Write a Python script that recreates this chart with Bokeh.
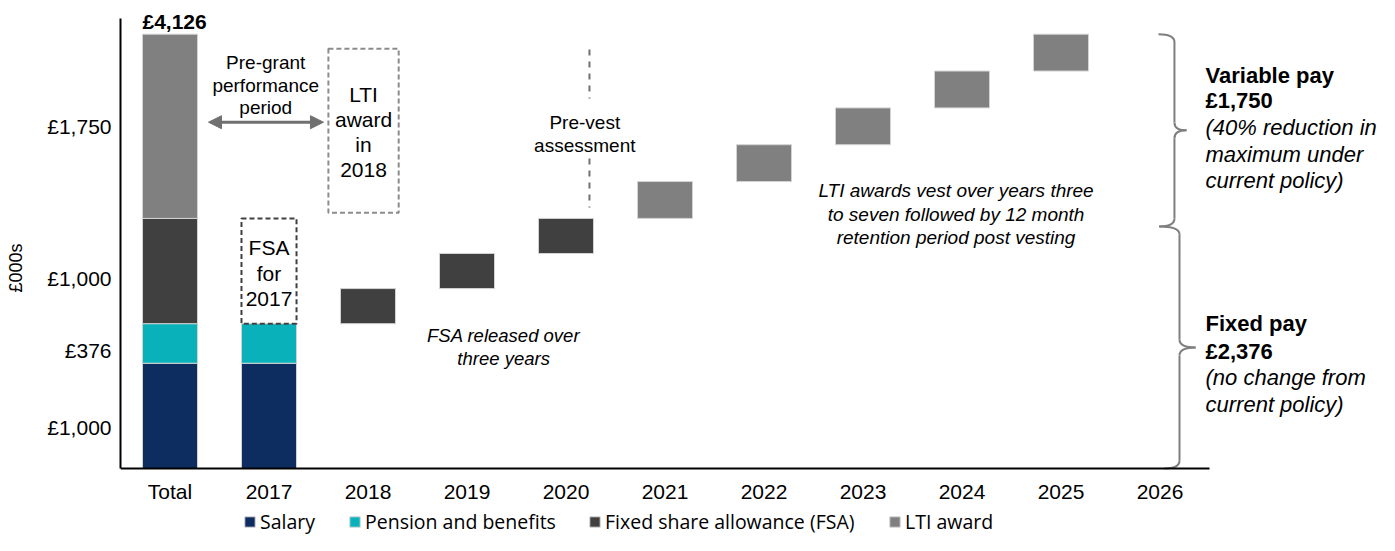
from bokeh.plotting import figure
from bokeh.models import Range1d, FixedTicker, Legend, LegendItem, Arrow, NormalHead
from bokeh.core.properties import value
from bokeh.embed import file_html
from bokeh.resources import INLINE

# ---------------- data ----------------
categories = ["Total", "2017", "2018", "2019", "2020", "2021", "2022",
              "2023", "2024", "2025", "2026"]
salary = 1000
pension = 376
fsa = 1000
lti = 1750
fsa_release_years = ["2018", "2019", "2020"]
lti_vest_years = ["2021", "2022", "2023", "2024", "2025"]
ytick_pos = [390, 1120, 1805, 3250]
ytick_labels = ["£1,000", "£376", "£1,000", "£1,750"]
legend_labels = ["Salary", "Pension and benefits", "Fixed share allowance (FSA)", "LTI award"]

total = salary + pension + fsa + lti
fixed_total = salary + pension + fsa

# ---------------- style ----------------
C_SAL = "#0D2C60"
C_PEN = "#09B2BA"
C_FSA = "#404040"
C_LTI = "#808080"
EDGE = "#d4d4d4"
FONT = value("Liberation Sans")
BW = 0.556

pos = {c: i + 0.5 for i, c in enumerate(categories)}

W, H = 1379, 535
LEFT = 120
PX_PER_UNIT = 0.10526   # vertical scale
Y_TOP = 468 / PX_PER_UNIT
Y_BOT = -(H - 468) / PX_PER_UNIT

p = figure(width=W, height=H, output_backend="svg", toolbar_location=None,
           x_range=Range1d(0, (W - LEFT) / 99.0), y_range=Range1d(Y_BOT, Y_TOP),
           min_border_left=LEFT, min_border_top=0, min_border_bottom=0,
           min_border_right=0)
p.outline_line_color = None
p.xgrid.visible = False
p.ygrid.visible = False
p.background_fill_color = "white"

# ---------------- bars ----------------
sal_x = [pos["Total"], pos["2017"]]
r_sal = p.vbar(x=sal_x, width=BW, bottom=0, top=salary,
               fill_color=C_SAL, line_color=EDGE, line_width=1)
r_pen = p.vbar(x=sal_x, width=BW, bottom=salary, top=salary + pension,
               fill_color=C_PEN, line_color=EDGE, line_width=1)

fsa_x = [pos["Total"]]
fsa_b = [salary + pension]
fsa_t = [fixed_total]
step = fsa / len(fsa_release_years)
base = salary + pension
for y in fsa_release_years:
    fsa_x.append(pos[y]); fsa_b.append(base); fsa_t.append(base + step)
    base += step
r_fsa = p.vbar(x=fsa_x, width=BW, bottom=fsa_b, top=fsa_t,
               fill_color=C_FSA, line_color=EDGE, line_width=1)

lti_x = [pos["Total"]]
lti_b = [fixed_total]
lti_t = [total]
step = lti / len(lti_vest_years)
base = fixed_total
for y in lti_vest_years:
    lti_x.append(pos[y]); lti_b.append(base); lti_t.append(base + step)
    base += step
r_lti = p.vbar(x=lti_x, width=BW, bottom=lti_b, top=lti_t,
               fill_color=C_LTI, line_color=EDGE, line_width=1)

# dashed boxes
p.quad(left=[pos["2017"] - BW / 2], right=[pos["2017"] + BW / 2],
       bottom=[salary + pension], top=[fixed_total],
       fill_color=None, line_color="#404040", line_width=2, line_dash="5 3")
p.quad(left=[2.10], right=[2.81], bottom=[2429], top=[3987],
       fill_color=None, line_color="#8c8c8c", line_width=2, line_dash="5 3")

# total label
p.text(x=[pos["Total"] - BW / 2], y=[total], text=[f"£{total:,}"],
       text_font=FONT, text_font_size="21px", text_font_style="bold",
       text_align="left", text_baseline="bottom", text_color="black", y_offset=-1)

# arrow (pre-grant)
p.add_layout(Arrow(x_start=0.889, y_start=3290, x_end=2.05, y_end=3290,
                   line_color="#707070", line_width=3,
                   start=NormalHead(size=13, fill_color="#707070", line_color="#707070"),
                   end=NormalHead(size=13, fill_color="#707070", line_color="#707070")))

# pre-vest dashed line
p.segment(x0=[4.737, 4.737], y0=[3981, 2945], x1=[4.737, 4.737], y1=[3515, 2480],
          line_color="#707070", line_width=2, line_dash="6 6")

def txt(x, y, s, size, style="normal", align="center", lh=1.1):
    p.text(x=[x], y=[y], text=[s], text_font=FONT, text_font_size=size,
           text_font_style=style, text_align=align, text_baseline="middle",
           text_line_height=lh, text_color="black")

txt(1.467, 3641, "Pre-grant\nperformance\nperiod", "19px", lh=1.084)
txt(2.455, 3197, "LTI\naward\nin\n2018", "21px", lh=1.096)
txt(pos["2017"], 1857, "FSA\nfor\n2017", "21px", lh=1.10)
txt(4.69, 3180, "Pre-vest\nassessment", "19px", lh=1.10)
txt(3.87, 1154, "FSA released over\nthree years", "18.5px", style="italic", lh=1.113)
txt(8.44, 2416, "LTI awards vest over years three\nto seven followed by 12 month\nretention period post vesting",
    "19px", style="italic", lh=1.117)
txt(10.96, 3615, f"Variable pay\n£{lti:,}", "22px", style="bold", align="left", lh=1.02)
txt(10.96, 2986, "(40% reduction in\nmaximum under\ncurrent policy)", "22px", style="italic", align="left", lh=1.066)
txt(10.96, 1245, f"Fixed pay\n£{fixed_total:,}", "22px", style="bold", align="left", lh=1.127)
txt(10.96, 737, "(no change from\ncurrent policy)", "22px", style="italic", align="left", lh=1.11)

# braces
def brace(xv, xtip, xend_top, xend_bot, top, bottom, r=75):
    mid = (top + bottom) / 2
    kw = dict(line_color="#7f7f7f", line_width=2)
    p.quadratic(x0=[xend_top, xv, xtip, xv], y0=[top, mid + r, mid, bottom + r],
                x1=[xv, xtip, xv, xend_bot], y1=[top - r, mid, mid - r, bottom],
                cx=[xv, xv, xv, xv], cy=[top, mid, mid, bottom], **kw)
    p.segment(x0=[xv, xv], y0=[top - r, mid - r], x1=[xv, xv], y1=[mid + r, bottom + r], **kw)

brace(10.646, 10.768, 10.485, 10.49, total, 2300)
brace(10.697, 10.86, 10.495, 10.545, 2300, 0)

# ---------------- axes ----------------
p.xaxis.fixed_location = 0
p.xaxis.ticker = FixedTicker(ticks=[pos[c] for c in categories])
p.xaxis.major_label_overrides = {pos[c]: c for c in categories}
p.xaxis.bounds = (0, len(categories))
p.xaxis.axis_line_color = "black"
p.xaxis.axis_line_width = 2
p.xaxis.major_tick_line_color = None
p.xaxis.minor_tick_line_color = None
p.xaxis.major_tick_out = 0
p.xaxis.major_tick_in = 0
p.xaxis.major_label_standoff = 11
p.xaxis.major_label_text_font = "Liberation Sans"
p.xaxis.major_label_text_font_size = "21px"
p.xaxis.major_label_text_color = "black"

p.yaxis.ticker = FixedTicker(ticks=ytick_pos)
p.yaxis.major_label_overrides = dict(zip(ytick_pos, ytick_labels))
p.yaxis.bounds = (0, 4275)
p.yaxis.axis_line_color = "black"
p.yaxis.axis_line_width = 2
p.yaxis.major_tick_line_color = None
p.yaxis.minor_tick_line_color = None
p.yaxis.major_tick_out = 0
p.yaxis.major_tick_in = 0
p.yaxis.major_label_standoff = 9
p.yaxis.major_label_text_font = "Liberation Sans"
p.yaxis.major_label_text_font_size = "21px"
p.yaxis.major_label_text_color = "black"
p.yaxis.axis_label = "£000s"
p.yaxis.axis_label_text_font = "Liberation Sans"
p.yaxis.axis_label_text_font_size = "18px"
p.yaxis.axis_label_text_font_style = "normal"
p.yaxis.axis_label_text_color = "black"
p.yaxis.axis_label_standoff = 18

# ---------------- legend (one per item, positioned like the reference) ----------------
leg_x = [123, 228, 468, 768]
for lab, rend, lx in zip(legend_labels, [r_sal, r_pen, r_fsa, r_lti], leg_x):
    lg = Legend(items=[LegendItem(label=lab, renderers=[rend])],
                location=(lx, 0), orientation="horizontal",
                glyph_width=13, glyph_height=13, label_standoff=4,
                padding=0, margin=0, border_line_color=None,
                background_fill_alpha=0, label_text_font="Open Sans",
                label_text_font_size="19.5px", label_text_color="black")
    p.add_layout(lg, "center")

open("out.html", "w").write(file_html(p, INLINE))
